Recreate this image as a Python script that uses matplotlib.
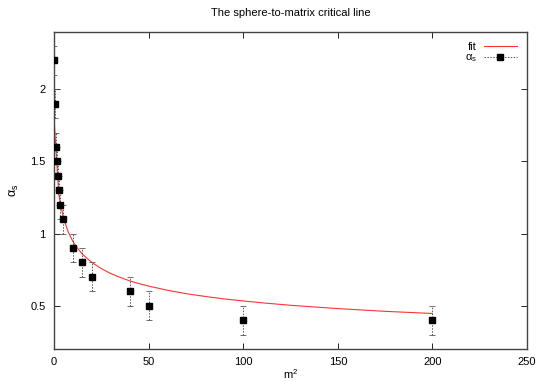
import matplotlib
matplotlib.use("Agg")
import matplotlib.pyplot as plt
from matplotlib.lines import Line2D

plt.rcParams['font.family'] = ['Liberation Sans', 'DejaVu Sans']
plt.rcParams['mathtext.fontset'] = 'custom'
plt.rcParams['mathtext.rm'] = 'Liberation Sans'
plt.rcParams['mathtext.it'] = 'Liberation Sans'

# data points (m^2, alpha_s, error)
m2 = [0, 0.35, 1, 1.4, 2, 2.5, 3.2, 5, 10, 15, 20, 40, 50, 100, 200]
alpha_s = [2.2, 1.9, 1.6, 1.5, 1.4, 1.3, 1.2, 1.1, 0.9, 0.8, 0.7, 0.6, 0.5, 0.4, 0.4]
err = [0.1] * len(m2)

# fit curve
fit_x = [0, 2.5, 5, 7.5, 10, 12.5, 15, 17.5, 20, 25, 30, 35, 40, 45, 50, 60, 70,
         80, 90, 100, 110, 125, 140, 150, 175, 200]
fit_y = [1.80, 1.27, 1.107, 1.011, 0.945, 0.897, 0.858, 0.827, 0.800, 0.757,
         0.723, 0.696, 0.672, 0.653, 0.636, 0.607, 0.583, 0.564, 0.547, 0.533,
         0.520, 0.503, 0.489, 0.480, 0.461, 0.446]

xticks = [0, 50, 100, 150, 200, 250]
yticks = [0.5, 1, 1.5, 2]

fig = plt.figure(figsize=(5.45, 3.82), dpi=100)
ax = fig.add_axes([0.0991, 0.0864, 0.868, 0.831])

ax.plot(fit_x, fit_y, color='#ff3333', lw=0.8, label='fit', zorder=2)
eb = ax.errorbar(m2, alpha_s, yerr=err, fmt='s', color='black', ms=4.2,
                 ecolor='#555555', elinewidth=0.7, capsize=2, capthick=0.6, zorder=3)
for c in eb[2]:
    c.set_linestyle((0, (1.5, 1.5)))

ax.set_xlim(0, 250)
ax.set_ylim(0.2, 2.4)
ax.set_xticks(xticks)
ax.set_yticks(yticks)
ax.set_xticklabels([str(t) for t in xticks])
ax.set_yticklabels(['0.5', '1', '1.5', '2'])
ax.tick_params(direction='in', length=4, width=0.6, labelsize=8, top=True, right=True,
               labeltop=False, labelright=False, pad=6)
for s in ax.spines.values():
    s.set_linewidth(1.0)
    s.set_color('#444444')

ax.set_xlabel('m$^2$', fontsize=8, labelpad=0)
ax.set_ylabel(r'$\alpha_{\rm s}$', fontsize=9, labelpad=7)
ax.set_title('The sphere-to-matrix critical line', fontsize=8, pad=11)

h_fit = Line2D([], [], color='#ff3333', lw=0.8)
h_pts = Line2D([], [], color='#555555', lw=0.7, ls=(0, (1.5, 1.5)), marker='s',
               mfc='black', mec='black', ms=4)
ax.legend([h_fit, h_pts], ['fit', r'$\alpha_{\rm s}$'], loc='upper right',
          frameon=False, markerfirst=False, fontsize=8, handlelength=3.0,
          borderaxespad=0.5, labelspacing=0.1, handletextpad=0.6)

fig.savefig('out.png', dpi=100)
